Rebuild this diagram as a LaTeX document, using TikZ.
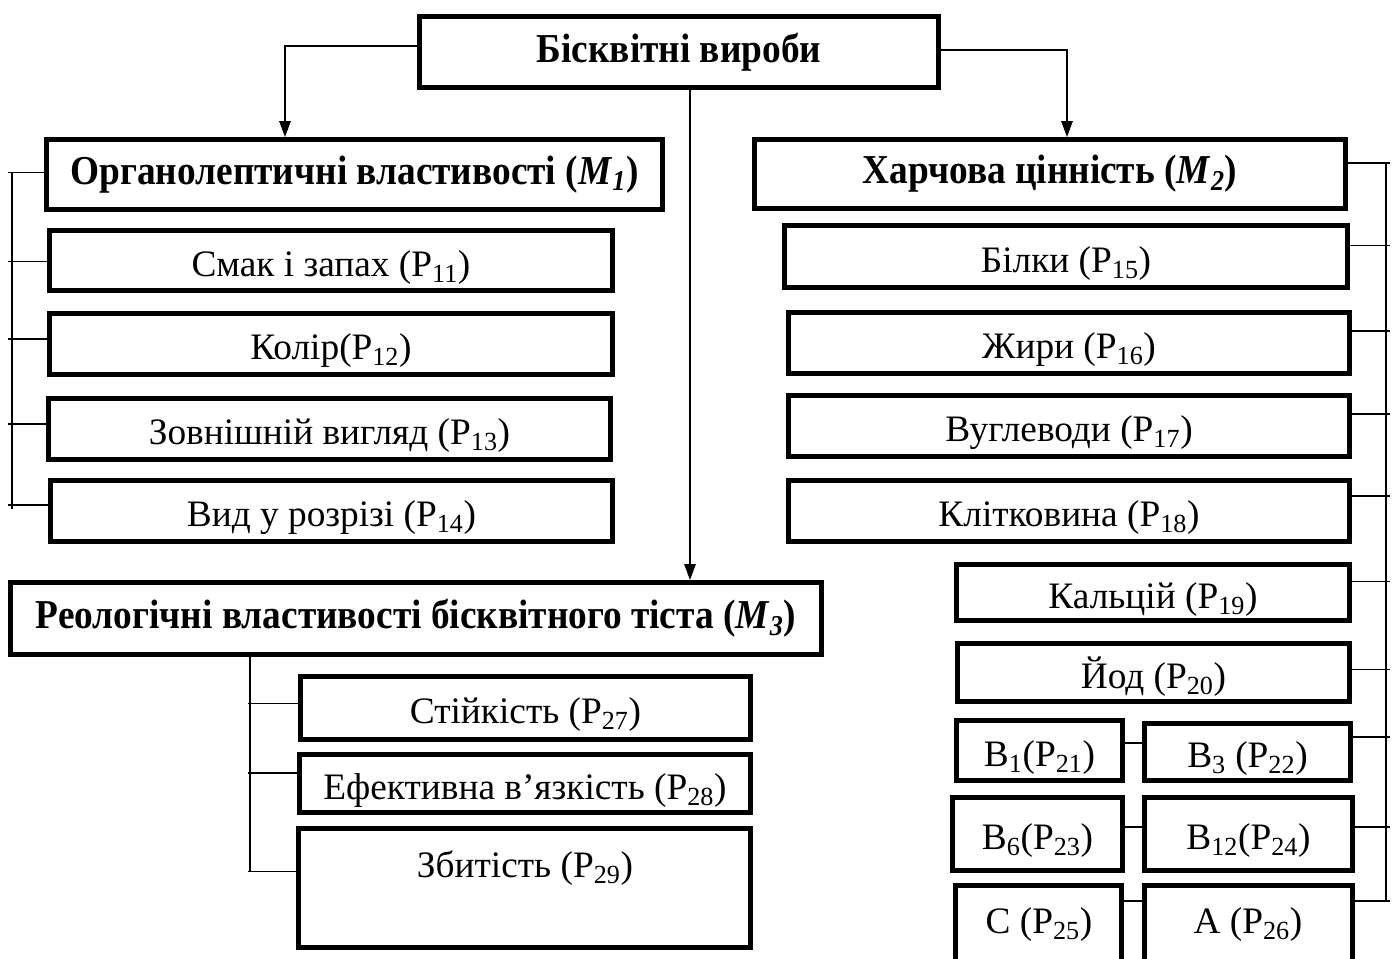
\documentclass[tikz,border=0pt]{standalone}
\usepackage{graphicx}
\usepackage{fontspec}
\setmainfont{Liberation Serif}
\usetikzlibrary{arrows.meta,calc}
\newcommand\mkbox[7][reg]{\node[box,#1, minimum width={(#5-#3-5)*0.75pt}, minimum height={(#6-#4-5)*0.75pt}] (#2) at ({(#3+#5)/2},{(#4+#6)/2}) {#7};}
\newcommand\hdtxt[1]{\scalebox{1}[1.1]{#1}}
\begin{document}
\begin{tikzpicture}[x=0.75pt,y=-0.75pt,
  box/.style={draw, line width=3.6pt, inner sep=0pt},
  reg/.style={font=\fontsize{28}{30}\selectfont, text height=23.8pt, text depth=0pt},
  head/.style={font=\fontsize{28}{30}\selectfont\bfseries},
  txt/.style={inner sep=0pt, reg},
  conn/.style={line width=1.3pt},
  arr/.style={-{Triangle[length=12pt,width=8.5pt]}}]
\useasboundingbox (0,0) rectangle (1393,959);
\clip (0,0) rectangle (1393,959);
\fill[white] (0,0) rectangle (1393,959);
% boxes
\mkbox[head]{top}{417}{14}{941}{90}{\hdtxt{Бісквітні вироби}}
\mkbox[head]{m1}{44}{137}{665}{212}{\hdtxt{Органолептичні властивості (\textit{M}\textsubscript{\textit{1}})}}
\mkbox{p11}{47}{228}{615}{293}{Смак і запах (P\textsubscript{11})}
\mkbox{p12}{47}{311}{615}{377}{Колір(P\textsubscript{12})}
\mkbox{p13}{46}{396}{613}{462}{Зовнішній вигляд (P\textsubscript{13})}
\mkbox{p14}{48}{478}{615}{544}{Вид у розрізі (P\textsubscript{14})}
\mkbox[head]{m3}{8}{580}{824}{657}{\hdtxt{Реологічні властивості бісквітного тіста (\textit{M}\textsubscript{\textit{3}})}}
\mkbox{p27}{298}{674}{753}{742}{Стійкість (P\textsubscript{27})}
\mkbox{p28}{297}{752}{753}{815}{Ефективна в’язкість (P\textsubscript{28})}
\mkbox{p29}{296}{826}{753}{950}{}
\node[txt] (t29) at (525,861.5) {Збитість (P\textsubscript{29})};
\mkbox[head]{m2}{752}{137}{1348}{211}{\hdtxt{Харчова цінність (\textit{M}\textsubscript{\textit{2}})}}
\mkbox{p15}{782}{223}{1350}{290}{Білки (P\textsubscript{15})}
\mkbox{p16}{786}{310}{1352}{376}{Жири (P\textsubscript{16})}
\mkbox{p17}{786}{393}{1352}{459}{Вуглеводи (P\textsubscript{17})}
\mkbox{p18}{786}{478}{1352}{544}{Клітковина (P\textsubscript{18})}
\mkbox{p19}{954}{562}{1352}{623}{Кальцій (P\textsubscript{19})}
\mkbox{p20}{955}{641}{1352}{704}{Йод (P\textsubscript{20})}
\mkbox{p21}{954}{718}{1125}{783}{B\textsubscript{1}(P\textsubscript{21})}
\mkbox{p22}{1142}{721}{1353}{783}{B\textsubscript{3} (P\textsubscript{22})}
\mkbox{p23}{950}{795}{1125}{873}{B\textsubscript{6}(P\textsubscript{23})}
\mkbox{p24}{1142}{795}{1355}{873}{B\textsubscript{12}(P\textsubscript{24})}
\mkbox{p25}{953}{883}{1124}{990}{}
\mkbox{p26}{1142}{883}{1355}{990}{}
\node[txt] (t25) at (1039,918) {C (P\textsubscript{25})};
\node[txt] (t26) at (1248,918) {A (P\textsubscript{26})};
% top arrows
\draw[conn,arr] ($(top.west)+(0,-6)$) -| ($(m1.north)+(-69.5,0)$);
\draw[conn,arr] ($(top.east)+(0,-2)$) -| ($(m2.north)+(17,0)$);
\draw[conn,arr] ($(top.south)+(11,0)$) coordinate (mt) -- (mt |- m3.north);
% left bracket
\coordinate (lb) at (12,0);
\coordinate (lt) at (8,0);
\foreach \n/\o in {m1/-2, p11/1, p12/-5, p13/-5, p14/-6} {
  \path ($(\n.west)+(0,\o)$) coordinate (tmp);
  \coordinate (L-\n) at (tmp -| lb);
  \draw[conn] (tmp) -- (tmp -| lt);
}
\draw[conn] (L-m1) -- ($(L-p14)+(0,4)$);
% M3 bracket
\coordinate (mb) at (250,0);
\coordinate (mtk) at (248,0);
\foreach \n/\o in {p27/-4.5, p28/-10.5, p29/-16.5} {
  \path ($(\n.west)+(0,\o)$) coordinate (tmp);
  \coordinate (M-\n) at (tmp -| mb);
  \draw[conn] (tmp) -- (tmp -| mtk);
}
\draw[conn] (m3.south -| mb) -- (M-p29);
% right bracket
\coordinate (rb) at (1386,0);
\coordinate (rt) at (1390,0);
\foreach \n/\o in {m2/-11, p15/-11, p16/-12, p17/-12, p18/-15, p19/-11, p20/-3, p22/-15, p24/-7, p26/-35.5} {
  \path ($(\n.east)+(0,\o)$) coordinate (tmp);
  \coordinate (R-\n) at (tmp -| rb);
  \draw[conn] (tmp) -- (tmp -| rt);
}
\draw[conn] (R-m2) -- (R-p26);
% pair links
\draw[conn] ($(p21.east)+(0,-7.5)$) coordinate (tmp) -- (tmp -| p22.west);
\draw[conn] ($(p23.east)+(0,-7)$) coordinate (tmp) -- (tmp -| p24.west);
\draw[conn] ($(p25.east)+(0,-35.5)$) coordinate (tmp) -- (tmp -| p26.west);
\end{tikzpicture}
\end{document}
